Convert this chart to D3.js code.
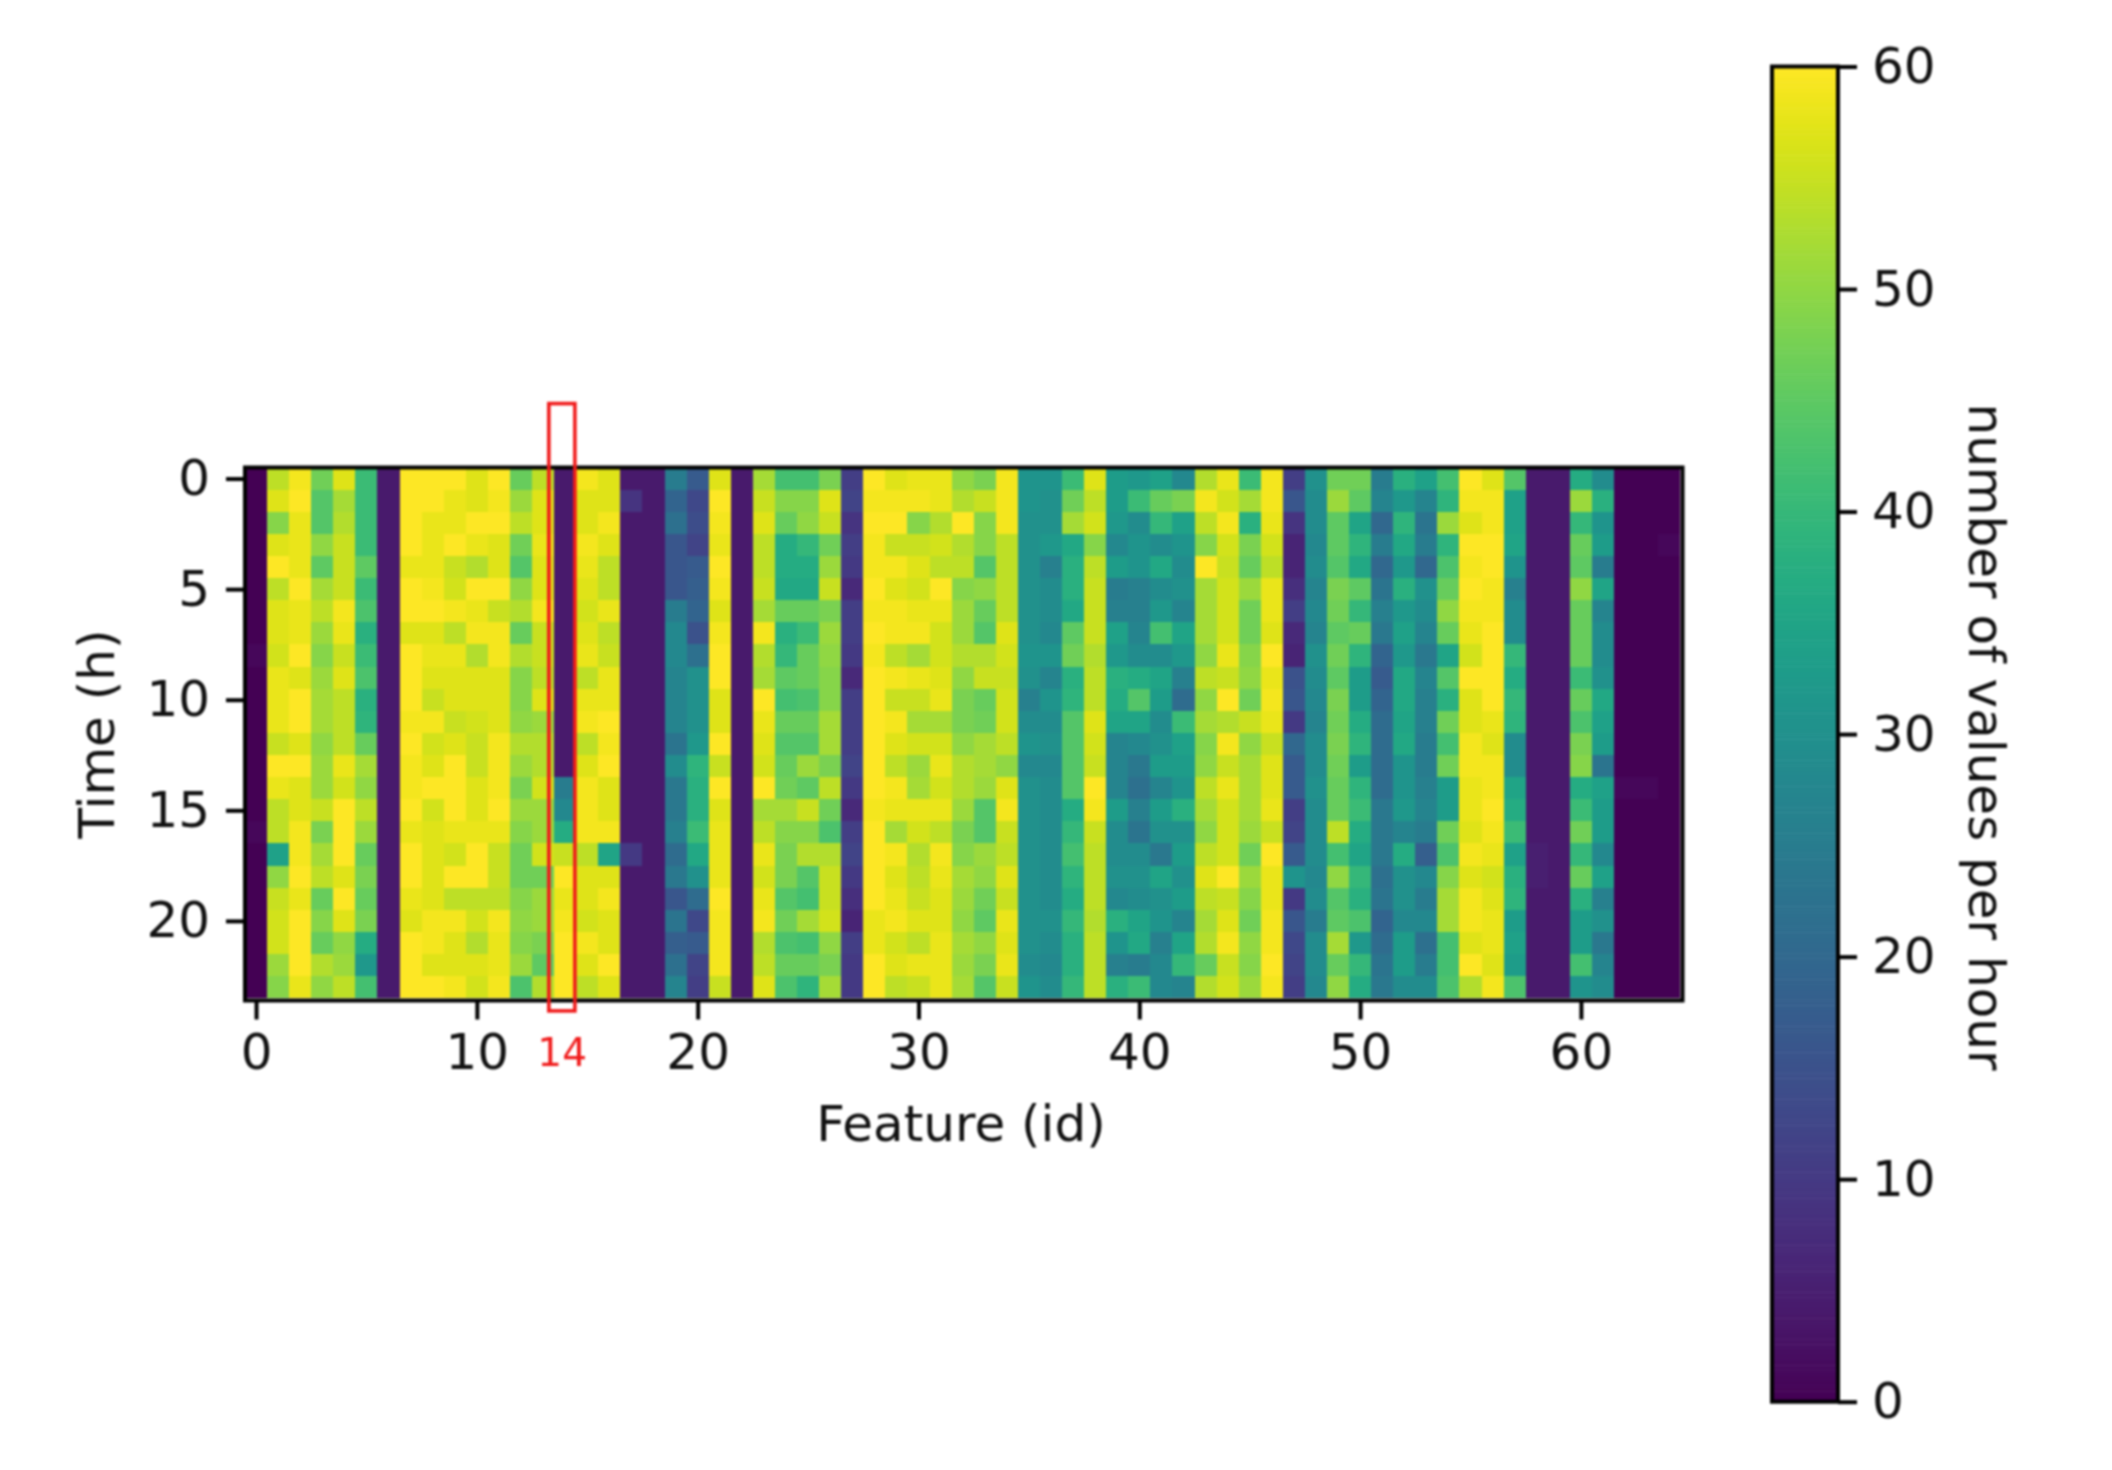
<!DOCTYPE html>
<html>
<head>
<meta charset="utf-8">
<script src="https://cdn.jsdelivr.net/npm/d3@7"></script>
<style>
  html, body { margin: 0; padding: 0; background: #fff; }
  svg { display: block; filter: blur(1.1px); }
  text { font-family: "DejaVu Sans", sans-serif; fill: #111; }
</style>
</head>
<body>
<svg id="chart"></svg>
<script>
// values per hour, one list per feature id, hours 0..23
const f0 = [0,0,0,0,0,0,0,0,1,0,0,0,0,0,0,0,1,0,0,0,0,0,0,0];
const f1 = [54,57,49,57,60,54,57,57,56,58,58,58,55,60,58,54,54,34,50,55,56,56,51,49];
const f2 = [59,60,58,58,58,60,58,58,60,57,60,60,57,60,57,57,59,59,60,58,60,60,60,58];
const f3 = [47,44,44,50,45,52,54,51,49,51,52,52,50,51,51,55,48,52,54,46,49,46,53,50];
const f4 = [57,52,53,55,55,55,59,58,55,57,54,54,54,58,56,60,60,60,57,60,57,50,51,54];
const f5 = [41,41,41,41,45,41,43,38,41,43,38,39,46,52,50,54,51,46,48,46,48,37,32,42];
const f6 = [4,4,4,4,4,4,4,4,4,4,4,4,4,4,4,4,4,4,4,4,4,4,4,4];
const f7 = [60,60,60,60,58,60,60,57,60,60,60,59,60,59,59,60,58,60,60,58,57,60,60,60];
const f8 = [60,60,58,58,58,59,60,57,58,57,55,59,56,57,60,56,57,57,57,57,59,59,57,60];
const f9 = [60,58,58,60,55,56,59,54,58,57,57,55,57,60,60,60,58,56,60,54,59,57,57,59];
const f10 = [57,57,60,58,53,60,58,59,53,57,57,56,55,55,57,57,58,60,60,54,56,53,57,56];
const f11 = [60,59,60,57,57,60,55,59,59,57,57,57,59,59,59,60,58,55,55,54,59,58,58,59];
const f12 = [46,51,54,47,44,50,53,46,53,49,49,50,53,51,48,51,49,47,47,49,50,49,51,43];
const f13 = [54,57,57,58,57,57,59,55,55,54,57,51,53,53,56,51,51,56,47,51,51,48,45,53];
const f14 = [4,4,4,4,4,4,4,4,4,4,4,4,4,4,25,28,37,55,60,58,59,60,60,60];
const f15 = [59,57,57,59,58,57,56,57,58,54,58,59,54,57,59,59,59,54,57,57,56,59,57,54];
const f16 = [57,57,59,57,54,54,58,54,55,58,58,60,59,60,57,57,59,35,57,59,57,57,60,57];
const f17 = [4,9,4,4,4,4,4,4,4,4,4,4,4,4,4,4,4,10,4,4,4,4,4,4];
const f18 = [4,4,4,4,4,4,4,4,4,4,4,4,4,4,4,4,4,4,4,4,4,4,4,4];
const f19 = [25,19,22,16,16,16,25,28,28,27,27,27,23,29,24,24,26,21,24,16,23,18,22,27];
const f20 = [17,13,14,12,17,18,19,15,22,30,30,30,32,39,38,38,41,36,30,21,13,17,12,11];
const f21 = [57,60,59,58,60,59,57,59,60,60,57,57,60,55,60,57,58,58,58,60,59,59,59,55];
const f22 = [4,4,4,4,4,4,4,4,4,4,4,4,4,4,4,4,4,4,4,4,4,4,4,4];
const f23 = [52,55,57,54,54,55,52,59,53,52,60,58,57,56,60,52,54,58,56,58,59,53,54,57];
const f24 = [42,49,46,37,37,36,46,38,40,45,42,46,44,46,47,52,49,48,48,44,47,43,46,43];
const f25 = [42,49,50,40,37,36,46,41,46,46,43,46,44,51,45,55,49,53,44,42,52,42,46,39];
const f26 = [48,57,55,47,51,55,48,51,50,49,49,52,52,48,54,47,43,53,55,55,56,50,48,52];
const f27 = [11,12,9,11,10,7,11,11,10,7,11,11,11,12,10,7,11,12,10,8,6,11,10,10];
const f28 = [60,59,60,59,59,60,59,60,59,60,60,60,60,60,60,59,60,60,60,60,58,58,60,60];
const f29 = [57,59,60,55,59,57,59,59,54,59,55,59,57,54,59,58,52,59,57,58,59,56,57,54];
const f30 = [58,59,49,55,57,56,58,59,52,58,55,52,56,51,52,58,56,53,54,55,57,54,58,55];
const f31 = [58,58,53,56,54,60,58,56,56,57,58,52,56,58,56,58,54,59,58,57,57,58,58,58];
const f32 = [50,53,60,53,54,49,51,51,53,50,48,48,50,53,53,51,48,49,52,51,50,52,51,52];
const f33 = [48,55,49,49,44,50,46,44,53,55,46,47,52,52,51,44,44,51,50,47,45,50,48,44];
const f34 = [59,59,59,54,54,54,54,57,56,55,56,56,54,50,57,59,55,54,57,55,58,57,58,55];
const f35 = [31,31,30,30,30,30,30,30,31,30,26,29,31,28,30,30,30,30,30,30,30,30,29,31];
const f36 = [31,30,30,32,26,29,29,28,31,27,31,29,30,28,29,29,29,29,29,29,30,29,28,29];
const f37 = [41,47,52,36,38,38,36,45,47,38,39,44,44,44,44,37,40,42,39,37,40,38,38,40];
const f38 = [57,54,56,49,54,55,55,55,53,54,54,57,56,55,60,59,55,54,54,54,53,54,54,54];
const f39 = [33,33,32,28,33,25,26,34,32,38,37,35,27,27,27,33,29,29,30,28,38,31,26,38];
const f40 = [32,41,29,31,31,26,26,27,29,37,44,35,28,24,22,26,23,29,30,29,35,36,25,41];
const f41 = [34,46,40,29,36,29,32,42,29,35,33,29,30,33,27,33,30,24,35,30,31,26,28,28];
const f42 = [28,48,34,31,29,30,27,35,32,26,21,41,34,33,31,38,30,33,30,33,27,35,40,27];
const f43 = [53,59,54,49,60,52,52,52,50,54,50,52,49,50,54,52,50,54,57,54,52,53,46,53];
const f44 = [58,56,59,56,55,56,56,56,58,55,60,53,59,55,58,56,56,56,60,55,57,59,55,56];
const f45 = [41,52,38,48,46,51,47,47,49,50,47,55,50,52,52,52,51,47,51,49,47,50,49,51];
const f46 = [59,59,58,56,54,58,58,57,60,58,59,58,55,57,57,58,55,60,58,58,59,59,60,59];
const f47 = [11,16,9,6,6,8,11,7,6,15,16,10,20,17,17,11,12,17,31,10,16,13,12,11];
const f48 = [30,29,29,28,29,27,28,27,30,29,28,27,29,29,30,29,29,29,28,29,25,29,29,28];
const f49 = [47,51,45,45,44,48,47,45,47,45,48,47,48,47,46,46,54,42,50,44,45,52,46,50];
const f50 = [47,45,35,39,36,45,40,46,39,33,33,37,39,33,39,41,37,35,40,38,43,32,40,37];
const f51 = [25,27,20,25,20,23,26,24,19,17,19,21,21,21,21,24,24,24,22,23,19,21,23,24];
const f52 = [38,32,39,36,32,38,32,34,32,36,36,35,36,31,31,32,27,37,30,30,28,33,33,29];
const f53 = [34,27,23,25,20,30,29,27,24,27,26,26,25,25,26,27,25,18,28,25,28,22,25,29];
const f54 = [42,39,51,39,43,46,50,46,35,44,38,47,42,47,33,33,47,43,49,52,52,42,42,43];
const f55 = [60,59,57,60,59,60,59,58,56,60,57,57,59,59,58,58,57,59,57,59,59,57,60,53];
const f56 = [57,59,59,60,60,59,59,60,60,60,60,58,57,59,59,60,59,58,56,57,58,58,57,59];
const f57 = [44,34,34,35,31,26,29,29,40,37,40,39,29,29,35,37,41,34,38,39,33,34,33,43];
const f58 = [4,4,4,4,4,4,4,4,4,4,4,4,4,4,4,4,4,5,5,4,4,4,4,4];
const f59 = [4,4,4,4,4,4,4,4,4,4,4,4,4,4,4,4,4,4,4,4,4,4,4,4];
const f60 = [37,51,40,46,45,50,46,46,46,41,46,43,48,49,37,41,47,40,46,38,33,33,42,31];
const f61 = [29,38,31,33,25,35,27,29,29,30,36,34,33,23,34,33,33,28,34,26,30,24,27,29];
const f62 = [0,0,0,0,0,0,0,0,0,0,0,0,0,0,1,0,0,0,0,0,0,0,0,0];
const f63 = [0,0,0,0,0,0,0,0,0,0,0,0,0,0,1,0,0,0,0,0,0,0,0,0];
const f64 = [0,0,0,1,0,0,0,0,0,0,0,0,0,0,0,0,0,0,0,0,0,0,0,0];
const features = [f0,f1,f2,f3,f4,f5,f6,f7,f8,f9,f10,f11,f12,f13,f14,f15,f16,f17,f18,f19,f20,
  f21,f22,f23,f24,f25,f26,f27,f28,f29,f30,f31,f32,f33,f34,f35,f36,f37,f38,f39,f40,f41,f42,
  f43,f44,f45,f46,f47,f48,f49,f50,f51,f52,f53,f54,f55,f56,f57,f58,f59,f60,f61,f62,f63,f64];

const xTicks = [0, 10, 20, 30, 40, 50, 60];
const yTicks = [0, 5, 10, 15, 20];
const cbTicks = [0, 10, 20, 30, 40, 50, 60];
const highlightFeature = [14];
const highlightBox = [13.26, 14.44, -3.39, 24.07]; // x0, x1, y0, y1 in data units

const width = 2112, height = 1470;
const fontSize = 50, tickLen = 19, spine = 4;

const svg = d3.select("#chart").attr("width", width).attr("height", height)
  .attr("viewBox", `0 0 ${width} ${height}`);

// set up scales (image limits run a little past the last cell, like the picture)
const xMax = 64.6, yMax = 23.6;
const xScale = d3.scaleLinear().domain([-0.5, xMax]).range([245, 1682.5]);
const yScale = d3.scaleLinear().domain([-0.5, yMax]).range([467.5, 1000.5]);
const cbScale = d3.scaleLinear().domain([0, 60]).range([1401.7, 66.5]);
const color = d3.scaleSequential(d3.interpolateViridis).domain([0, 60]);

// heatmap cells
const cells = features.flatMap((col, f) => col.map((v, h) => ({ f, h, v })));
svg.append("g")
  .selectAll("rect")
  .data(cells)
  .join("rect")
  .attr("x", (d) => xScale(d.f - 0.5))
  .attr("y", (d) => yScale(d.h - 0.5))
  .attr("width", (d) => xScale(Math.min(d.f + 0.5, xMax)) - xScale(d.f - 0.5))
  .attr("height", (d) => yScale(Math.min(d.h + 0.5, yMax)) - yScale(d.h - 0.5))
  .attr("fill", (d) => color(d.v))
  .attr("shape-rendering", "crispEdges");

// style helper for the three axes
function styleAxis(g) {
  g.selectAll("text").attr("font-size", fontSize).attr("font-family", null);
  g.selectAll("line").attr("stroke", "#000").attr("stroke-width", spine);
  g.select(".domain").remove();
}

svg.append("g")
  .attr("transform", `translate(0,${yScale(yMax)})`)
  .call(d3.axisBottom(xScale).tickValues(xTicks).tickSize(tickLen).tickPadding(14))
  .call(styleAxis);

svg.append("g")
  .attr("transform", `translate(${xScale(-0.5)},0)`)
  .call(d3.axisLeft(yScale).tickValues(yTicks).tickSize(tickLen).tickPadding(16))
  .call(styleAxis);

// plot frame
svg.append("rect")
  .attr("x", xScale(-0.5))
  .attr("y", yScale(-0.5))
  .attr("width", xScale(xMax) - xScale(-0.5))
  .attr("height", yScale(yMax) - yScale(-0.5))
  .attr("fill", "none")
  .attr("stroke", "#000")
  .attr("stroke-width", spine);

// highlighted feature: red box and red tick label
svg.append("rect")
  .attr("x", xScale(highlightBox[0]))
  .attr("y", yScale(highlightBox[2]))
  .attr("width", xScale(highlightBox[1]) - xScale(highlightBox[0]))
  .attr("height", yScale(highlightBox[3]) - yScale(highlightBox[2]))
  .attr("fill", "none")
  .attr("stroke", "#f01a1a")
  .attr("stroke-width", 3.6);
svg.append("g")
  .selectAll("text")
  .data(highlightFeature)
  .join("text")
  .attr("x", (d) => xScale(d) - 3)
  .attr("y", yScale(yMax) + 65)
  .attr("text-anchor", "middle")
  .attr("font-size", 39)
  .style("fill", "#f01a1a")
  .text((d) => d);

// axis labels
svg.append("text")
  .attr("x", 961)
  .attr("y", 1141)
  .attr("text-anchor", "middle")
  .attr("font-size", fontSize)
  .text("Feature (id)");
svg.append("text")
  .attr("transform", "translate(114,734) rotate(-90)")
  .attr("text-anchor", "middle")
  .attr("font-size", fontSize)
  .text("Time (h)");

// colorbar, 256 steps
const cbSteps = d3.range(256);
const cbGroup = svg.append("g");
cbGroup.selectAll("rect")
  .data(cbSteps)
  .join("rect")
  .attr("x", 1772)
  .attr("width", 66)
  .attr("y", (d) => cbScale(((d + 1) / 256) * 60))
  .attr("height", (d) => cbScale((d / 256) * 60) - cbScale(((d + 1) / 256) * 60) + 0.5)
  .attr("fill", (d) => color(((d + 0.5) / 256) * 60));
cbGroup.append("rect")
  .attr("x", 1772)
  .attr("y", cbScale(60))
  .attr("width", 66)
  .attr("height", cbScale(0) - cbScale(60))
  .attr("fill", "none")
  .attr("stroke", "#000")
  .attr("stroke-width", spine);
svg.append("g")
  .attr("transform", "translate(1838,0)")
  .call(d3.axisRight(cbScale).tickValues(cbTicks).tickSize(tickLen).tickPadding(15))
  .call(styleAxis);
svg.append("text")
  .attr("transform", "translate(1969,737) rotate(90)")
  .attr("text-anchor", "middle")
  .attr("font-size", fontSize)
  .text("number of values per hour");
</script>
</body>
</html>
